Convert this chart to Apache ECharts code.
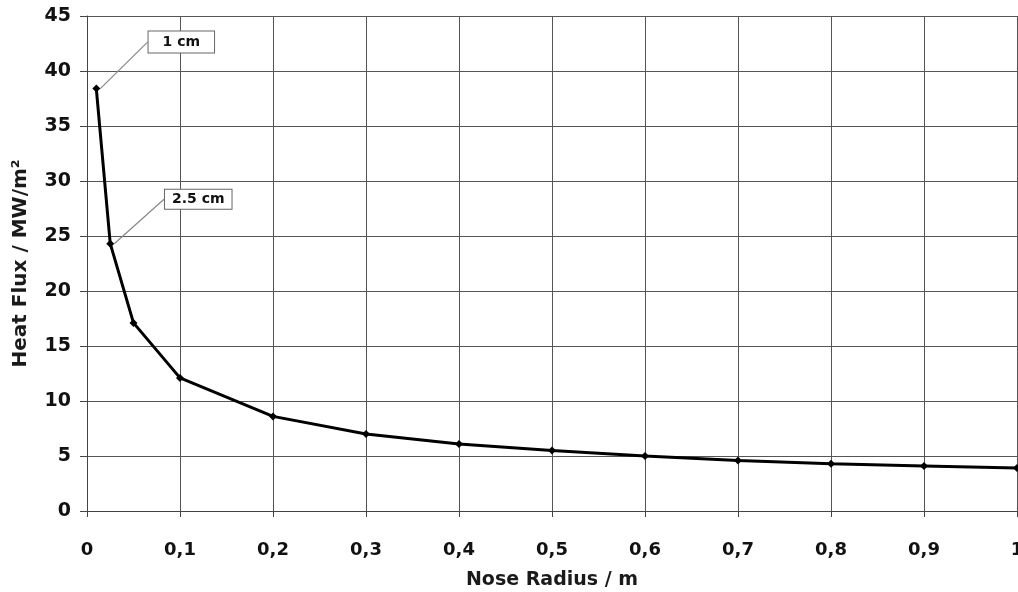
<!DOCTYPE html>
<html>
<head>
<meta charset="utf-8">
<script src="https://cdn.jsdelivr.net/npm/echarts@6/dist/echarts.min.js"></script>
<style>
  html, body { margin: 0; padding: 0; background: #ffffff; }
  #chart { width: 1018px; height: 592px; }
</style>
</head>
<body>
<div id="chart"></div>
<script>
  // nose radius (m) and stagnation heat flux (MW/m²)
  var radius   = [0.01, 0.025, 0.05, 0.1, 0.2, 0.3, 0.4, 0.5, 0.6, 0.7, 0.8, 0.9, 1.0];
  var heatFlux = [38.4, 24.3, 17.1, 12.1, 8.6, 7.0, 6.1, 5.5, 5.0, 4.6, 4.3, 4.1, 3.9];
  // callout boxes on the first two points
  var callouts = { 0: '1 cm', 1: '2.5 cm' };

  var font = '"DejaVu Sans", sans-serif';

  var seriesData = radius.map(function (r, i) {
    var item = { value: [r, heatFlux[i]] };
    if (callouts[i]) {
      item.label = {
        show: true,
        formatter: callouts[i],
        position: 'top',
        color: '#111',
        fontFamily: font,
        fontWeight: 'bold',
        fontSize: 14,
        backgroundColor: '#fff',
        borderColor: '#666',
        borderWidth: 1,
        padding: i === 0 ? [4, 14, 3, 14] : [3, 7, 2, 7]
      };
      item.labelLine = { show: true, lineStyle: { color: '#888', width: 1.2 } };
    }
    return item;
  });

  var chart = echarts.init(document.getElementById('chart'));
  chart.setOption({
    animation: false,
    backgroundColor: '#ffffff',
    grid: { left: 87, right: 1, top: 16, bottom: 81, outerBoundsMode: 'none', containLabel: false },
    xAxis: {
      type: 'value',
      min: 0, max: 1, interval: 0.1,
      name: 'Nose Radius / m',
      nameLocation: 'middle',
      nameGap: 60,
      nameTextStyle: { color: '#1a1a1a', fontFamily: font, fontWeight: 'bold', fontSize: 19 },
      axisLine: { show: true, lineStyle: { color: '#444', width: 1 } },
      axisTick: { show: true, inside: false, length: 6, lineStyle: { color: '#444' } },
      axisLabel: {
        margin: 30,
        color: '#111', fontFamily: font, fontWeight: 'bold', fontSize: 18,
        formatter: function (v) { return String(Math.round(v * 10) / 10).replace('.', ','); }
      },
      splitLine: { show: true, lineStyle: { color: '#555', width: 1 } }
    },
    yAxis: {
      type: 'value',
      min: 0, max: 45, interval: 5,
      name: 'Heat Flux / MW/m²',
      nameLocation: 'middle',
      nameGap: 56,
      nameTextStyle: { color: '#1a1a1a', fontFamily: font, fontWeight: 'bold', fontSize: 20 },
      axisLine: { show: true, lineStyle: { color: '#444', width: 1 } },
      axisTick: { show: true, inside: false, length: 7, lineStyle: { color: '#444' } },
      axisLabel: {
        margin: 16,
        color: '#111', fontFamily: font, fontWeight: 'bold', fontSize: 19
      },
      splitLine: { show: true, lineStyle: { color: '#555', width: 1 } }
    },
    series: [{
      type: 'line',
      data: seriesData,
      symbol: 'diamond',
      symbolSize: 8,
      itemStyle: { color: '#000' },
      lineStyle: { color: '#000', width: 3 },
      labelLayout: function (params) {
        var i = params.dataIndex;
        if (i === 0) return { dx: 85, dy: -27 };
        if (i === 1) return { dx: 88, dy: -26 };
        return {};
      }
    }]
  });
</script>
</body>
</html>
